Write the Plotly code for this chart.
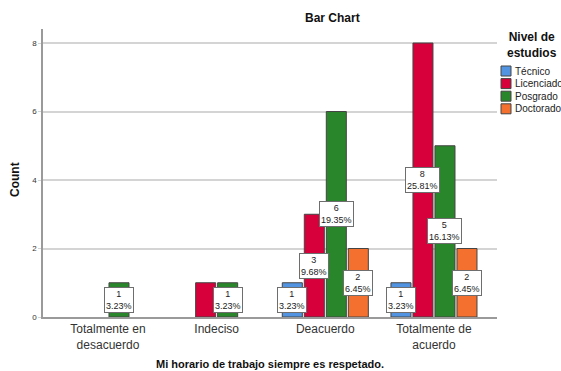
import plotly.graph_objects as go

categories = ["Totalmente en<br>desacuerdo", "Indeciso", "Deacuerdo", "Totalmente de<br>acuerdo"]
series_names = ["Técnico", "Licenciado", "Posgrado", "Doctorado"]
tecnico = [0, 0, 1, 1]
licenciado = [0, 1, 3, 8]
posgrado = [1, 1, 6, 5]
doctorado = [0, 0, 2, 2]
# labels SPSS suppressed because of overlap: (series index, category index)
hidden_labels = [(1, 1)]

colors = ["#5294E2", "#D8003A", "#2A862A", "#F4702E"]
series_values = [tecnico, licenciado, posgrado, doctorado]
total = sum(sum(s) for s in series_values)

FONT = "Liberation Sans, Arial, sans-serif"
W, H = 561, 371
# plot area in page pixels: x 43..497, y 29..317
L, R, T, B = 43, 561 - 497, 29, 371 - 317
pw, ph = W - L - R, H - T - B


def px(xp):
    return (xp - L) / pw


def py(yp):
    return (H - yp - B) / ph


bargap = 0.19
bargroupgap = 0.09
n = len(series_names)
slot = (1 - bargap) / n

fig = go.Figure()
xs = list(range(len(categories)))
for j, (name, vals) in enumerate(zip(series_names, series_values)):
    fig.add_trace(go.Bar(
        x=xs, y=[v if v else None for v in vals], name=name,
        marker=dict(color=colors[j], line=dict(color="#444444", width=1)),
        showlegend=False, hoverinfo="x+y",
    ))

annotations = []
for j, vals in enumerate(series_values):
    for i, v in enumerate(vals):
        if v <= 0 or (j, i) in hidden_labels:
            continue
        annotations.append(dict(
            x=i + (j - (n - 1) / 2) * slot, y=v / 2, xref="x", yref="y",
            text=f"{v}<br>{100 * v / total:.2f}%", showarrow=False,
            font=dict(family=FONT, size=9, color="#222"),
            bgcolor="white", bordercolor="#6e6e6e", borderwidth=1, borderpad=1,
            align="center",
        ))

# titles
annotations.append(dict(x=px(332), xref="paper", y=py(18), yref="paper", text="<b>Bar Chart</b>",
                        showarrow=False, yanchor="middle", xanchor="center",
                        font=dict(family=FONT, size=12, color="#111")))
annotations.append(dict(x=0.5, xref="paper", y=py(364), yref="paper",
                        text="<b>Mi horario de trabajo siempre es respetado.</b>",
                        showarrow=False, yanchor="middle", xanchor="center",
                        font=dict(family=FONT, size=11, color="#111")))
annotations.append(dict(x=px(15), xref="paper", y=py(180), yref="paper",
                        text="<b>Count</b>", textangle=-90, showarrow=False,
                        yanchor="middle", xanchor="center",
                        font=dict(family=FONT, size=12, color="#111")))

# legend (manual, SPSS-like compact spacing)
annotations.append(dict(x=px(532), xref="paper", y=py(45), yref="paper",
                        text="<b>Nivel de<br>estudios</b>", showarrow=False,
                        yanchor="middle", xanchor="center", align="center",
                        font=dict(family=FONT, size=12, color="#111")))
shapes = []
for j, name in enumerate(series_names):
    yc = 71 + j * 12.6
    shapes.append(dict(type="rect", xref="paper", yref="paper",
                       x0=px(501), x1=px(511), y0=py(yc + 5), y1=py(yc - 5),
                       fillcolor=colors[j], line=dict(color="#444444", width=1)))
    annotations.append(dict(x=px(512.5), xref="paper", y=py(yc), yref="paper",
                            text=name, showarrow=False, xanchor="left", yanchor="middle",
                            font=dict(family=FONT, size=10, color="#222")))

fig.update_layout(
    width=W, height=H,
    margin=dict(l=L, r=R, t=T, b=B, pad=0),
    paper_bgcolor="white", plot_bgcolor="white",
    barmode="group", bargap=bargap, bargroupgap=bargroupgap,
    annotations=annotations, shapes=shapes,
    font=dict(family=FONT, color="#333"),
)
fig.update_xaxes(
    tickmode="array", tickvals=xs, ticktext=categories,
    range=[-0.598, 3.58], showgrid=False, zeroline=False,
    showline=True, linecolor="#9a9a9a", linewidth=1.5,
    ticks="", tickfont=dict(family=FONT, size=12, color="#333"),
)
fig.update_yaxes(
    range=[0, 8.41], tickvals=[0, 2, 4, 6, 8],
    showgrid=True, gridcolor="#d4d4d4", gridwidth=1.5, zeroline=False,
    showline=True, linecolor="#9a9a9a", linewidth=1.5,
    ticks="outside", ticklen=3, tickcolor="#d4d4d4",
    tickfont=dict(family=FONT, size=8, color="#333"),
)

fig.write_html(
    "out.html",
    config={"displayModeBar": False},
    post_script="document.body.style.margin='0';document.body.style.overflow='hidden';",
)
